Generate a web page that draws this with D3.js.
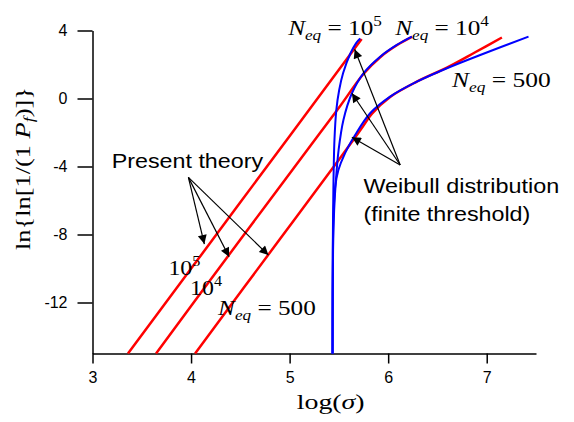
<!DOCTYPE html>
<html>
<head>
<meta charset="utf-8">
<script src="https://cdn.jsdelivr.net/npm/d3@7"></script>
<style>
  body { margin: 0; background: #fff; }
  svg { display: block; }
  .axis path, .axis line { stroke: #000; stroke-width: 1.5px; }
  .axis text { font-family: "Liberation Sans", Arial, Helvetica, sans-serif; font-size: 16px; fill: #000; }
  .serif { font-family: "Liberation Serif", "Times New Roman", serif; fill: #000; white-space: pre; }
  .sans { font-family: "Liberation Sans", Arial, Helvetica, sans-serif; fill: #000; white-space: pre; }
  .theory { fill: none; stroke: #ff0000; stroke-width: 2.5px; }
  .weibull { fill: none; stroke: #0000ff; stroke-width: 2px; }
  .arrow { stroke: #000; stroke-width: 1.2px; }
</style>
</head>
<body>
<svg id="chart" width="574" height="422"></svg>
<script>
// x = log(sigma), y = ln{ln[1/(1-Pf)]}
const xTicks = [3, 4, 5, 6, 7];
const yTicks = [-12, -8, -4, 0, 4];

// present theory (red), one curve per N_eq
const theory1e5 = [[3.36, -15], [4.50, -6.11], [5.731, 3.5]];
const theory1e4 = [[3.645, -15], [4.497, -8.32], [5.289, -2.18], [5.513, -0.44], [5.749, 1.44],
    [5.919, 2.43], [6.088, 3.13], [6.241, 3.62]];
const theory500 = [[4.041, -15], [4.904, -8.25], [5.513, -3.5], [5.635, -2.53], [5.736, -1.71],
    [5.838, -0.88], [6.02, 0.09], [6.291, 0.99], [6.596, 1.82], [6.883, 2.72], [7.154, 3.59]];

// Weibull distribution with finite threshold (blue)
const weibull1e5 = [[5.435, -15], [5.436, -11.85], [5.438, -8.91], [5.444, -5.38], [5.455, -2.44],
    [5.474, -0.68], [5.503, 0.5], [5.543, 1.5], [5.614, 2.62], [5.675, 3.26], [5.716, 3.53]];
const weibull1e4 = [[5.436, -15], [5.437, -11.85], [5.441, -8.91], [5.452, -6.56], [5.47, -4.79],
    [5.497, -3.03], [5.546, -1.26], [5.632, 0.31], [5.749, 1.48], [5.919, 2.46], [6.088, 3.15], [6.241, 3.64]];
const weibull500 = [[5.436, -15], [5.437, -11.85], [5.439, -9.09], [5.444, -7.15], [5.462, -5.21],
    [5.495, -4.21], [5.563, -3.21], [5.665, -2.15], [5.817, -0.87], [6.02, 0.11], [6.291, 0.99],
    [6.596, 1.78], [6.934, 2.56], [7.424, 3.64]];

// annotation arrows: [from, to]
const theoryArrows = [[[3.973, -4.64], [4.135, -8.56]], [[3.973, -4.64], [4.386, -9.31]], [[3.973, -4.64], [4.785, -9.21]]];
const weibullArrows = [[[6.122, -3.91], [5.66, 2.9]], [[6.122, -3.91], [5.632, 0.31]], [[6.122, -3.91], [5.632, -2.28]]];

const svg = d3.select('#chart');

const x = d3.scaleLinear().domain([3, 7.5]).range([92.5, 536]);
const y = d3.scaleLinear().domain([-15, 4]).range([353.5, 30.5]);

// axes
svg.append('g')
    .attr('class', 'axis')
    .attr('transform', 'translate(0,' + y(-15) + ')')
    .call(d3.axisBottom(x).tickValues(xTicks).tickSize(10).tickPadding(8).tickSizeOuter(0)
        .tickFormat(d => String(d)));

svg.append('g')
    .attr('class', 'axis')
    .attr('transform', 'translate(' + x(3) + ',0)')
    .call(d3.axisLeft(y).tickValues(yTicks).tickSize(15).tickPadding(10).tickSizeOuter(0)
        .tickFormat(d => String(d)));

svg.selectAll('.axis .domain').attr('stroke-width', 1.5);

// curves
const line = d3.line()
    .x(d => x(d[0]))
    .y(d => y(d[1]))
    .curve(d3.curveCatmullRom.alpha(0.5));

[theory1e5, theory1e4, theory500].forEach(function (c) {
    svg.append('path').datum(c).attr('class', 'theory').attr('d', line);
});
[weibull1e5, weibull1e4, weibull500].forEach(function (c) {
    svg.append('path').datum(c).attr('class', 'weibull').attr('d', line);
});

// arrow heads
svg.append('defs').append('marker')
    .attr('id', 'head')
    .attr('viewBox', '0 0 10 10')
    .attr('refX', 10).attr('refY', 5)
    .attr('markerUnits', 'userSpaceOnUse')
    .attr('markerWidth', 13).attr('markerHeight', 9)
    .attr('orient', 'auto')
    .append('path').attr('d', 'M0,0L10,5L0,10z').attr('fill', '#000');

svg.selectAll('line.arrow')
    .data(theoryArrows.concat(weibullArrows))
    .enter().append('line')
    .attr('class', 'arrow')
    .attr('x1', d => x(d[0][0])).attr('y1', d => y(d[0][1]))
    .attr('x2', d => x(d[1][0])).attr('y2', d => y(d[1][1]))
    .attr('marker-end', 'url(#head)');

// text helper: builds the text, then stretches it to the width seen in the chart
function label(px, py, cls, size, width, build) {
    const g = svg.append('g').attr('transform', 'translate(' + px + ',' + py + ')');
    const t = g.append('text').attr('class', cls).attr('font-size', size);
    build(t);
    if (width) {
        const w = t.node().getBBox().width;
        t.attr('transform', 'scale(' + (width / w) + ',1)');
    }
    return g;
}

function neq(t, value, exp) {
    t.append('tspan').attr('font-style', 'italic').text('N');
    t.append('tspan').attr('font-style', 'italic').attr('font-size', '0.68em').attr('dy', 5).text('eq');
    t.append('tspan').attr('dy', -5).text(' = ' + value);
    if (exp) t.append('tspan').attr('font-size', '0.68em').attr('dy', -9).text(exp);
}

function power(t, exp) {
    t.append('tspan').text('10');
    t.append('tspan').attr('font-size', '0.68em').attr('dy', -9).text(exp);
}

label(x(4.985), y(3.74), 'serif', 21, 95, t => neq(t, '10', '5'));
label(x(6.071), y(3.74), 'serif', 21, 95, t => neq(t, '10', '4'));
label(x(6.647), y(0.68), 'serif', 21, 100, t => neq(t, '500'));
label(x(4.274), y(-12.74), 'serif', 21, 99, t => neq(t, '500'));
label(x(3.77), y(-10.38), 'serif', 21, 32, t => power(t, '5'));
label(x(3.99), y(-11.56), 'serif', 21, 32, t => power(t, '4'));

label(x(3.195), y(-4.11), 'sans', 21, 152, t => t.text('Present theory'));
label(x(5.749), y(-5.55), 'sans', 21, 196, t => t.text('Weibull distribution'));
label(x(5.749), y(-7.18), 'sans', 21, 167, t => t.text('(finite threshold)'));

// axis titles
label(296.7, 409, 'serif', 22, 68, function (t) {
    t.append('tspan').text('log(');
    t.append('tspan').attr('font-style', 'italic').text('σ');
    t.append('tspan').text(')');
});

const yTitle = svg.append('g').attr('transform', 'translate(30,250) rotate(-90)');
const yt = yTitle.append('text').attr('class', 'serif').attr('font-size', 22);
yt.append('tspan').text('ln{ln[1/(1 ');
yt.append('tspan').attr('font-style', 'italic').text('P');
yt.append('tspan').attr('font-style', 'italic').attr('font-size', '0.68em').attr('dy', 4).text('f');
yt.append('tspan').attr('dy', -4).text(')]}');
const ytw = yt.node().getBBox().width;
yt.attr('transform', 'scale(' + (163 / ytw) + ',1)');
</script>
</body>
</html>
